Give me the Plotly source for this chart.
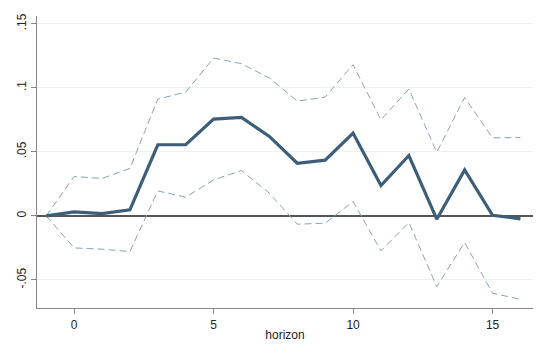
import plotly.graph_objects as go

horizon = list(range(-1, 17))
irf = [0.0, 0.0031, 0.0018, 0.0047, 0.0555, 0.0555, 0.0755, 0.0768, 0.062, 0.0411,
       0.0435, 0.0646, 0.0237, 0.0471, -0.0026, 0.0359, 0.0005, -0.0023]
upper = [0.0, 0.0307, 0.0292, 0.037, 0.0911, 0.0966, 0.1232, 0.1188, 0.1076, 0.0896,
         0.0927, 0.118, 0.075, 0.099, 0.0497, 0.0924, 0.0609, 0.0612]
lower = [0.0, -0.025, -0.026, -0.0279, 0.0195, 0.0146, 0.0281, 0.0354, 0.0177, -0.0065,
         -0.0057, 0.0112, -0.0273, -0.0052, -0.0552, -0.0208, -0.0604, -0.0651]
ytick_vals = [-0.05, 0, 0.05, 0.1, 0.15]
ytick_text = ["-.05", "0", ".05", ".1", ".15"]
xtick_vals = [0, 5, 10, 15]

fig = go.Figure()
fig.add_trace(go.Scatter(x=horizon, y=upper, mode="lines",
                         line=dict(color="#8ca2b5", width=1, dash="7px,4px"), showlegend=False))
fig.add_trace(go.Scatter(x=horizon, y=lower, mode="lines",
                         line=dict(color="#8ca2b5", width=1, dash="7px,4px"), showlegend=False))
fig.add_trace(go.Scatter(x=horizon, y=irf, mode="lines",
                         line=dict(color="#3c5e79", width=3.2), showlegend=False))

# page body has an 8px default margin, so the figure is sized/offset to compensate
fig.update_layout(
    width=551, height=342,
    margin=dict(l=29, r=26, t=8, b=42),
    paper_bgcolor="white", plot_bgcolor="white",
    font=dict(family="Liberation Sans, Arial, sans-serif", size=12, color="#222"),
    xaxis=dict(range=[-1.33, 16.45], tickvals=xtick_vals, ticks="outside", ticklen=5,
               tickcolor="#888", showline=True, linecolor="#888", linewidth=1.2,
               showgrid=False, zeroline=False, automargin=False,
               title=dict(text="horizon", standoff=0, font=dict(size=12))),
    yaxis=dict(range=[-0.0719, 0.156], tickvals=ytick_vals, ticktext=ytick_text,
               tickangle=-90, ticks="outside", ticklen=5, tickcolor="#888",
               showline=True, linecolor="#888", linewidth=1.2, automargin=False,
               showgrid=True, gridcolor="#eaf2f3", gridwidth=1,
               zeroline=True, zerolinecolor="#555555", zerolinewidth=2),
)

fig.write_html("out.html")
